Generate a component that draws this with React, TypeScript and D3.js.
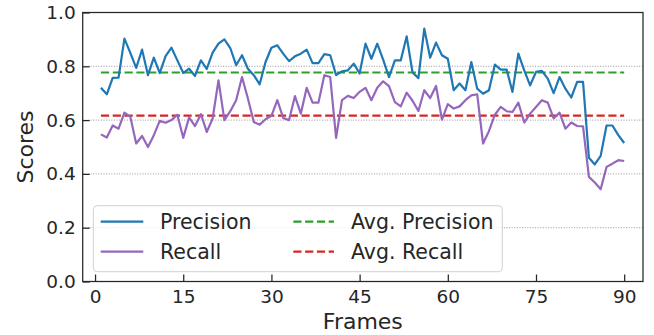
import React, { useEffect, useRef } from 'react';
import * as d3 from 'd3';

// values, frames 1..90
const precision = [
  0.72, 0.696, 0.757, 0.758, 0.903, 0.85, 0.794, 0.862, 0.767, 0.832,
  0.775, 0.838, 0.869, 0.822, 0.775, 0.791, 0.764, 0.822, 0.79, 0.851,
  0.884, 0.9, 0.868, 0.804, 0.841, 0.791, 0.767, 0.733, 0.816, 0.869,
  0.878, 0.847, 0.819, 0.837, 0.847, 0.862, 0.812, 0.812, 0.845, 0.841,
  0.767, 0.781, 0.785, 0.81, 0.773, 0.884, 0.828, 0.884, 0.825, 0.76,
  0.822, 0.822, 0.911, 0.777, 0.756, 0.94, 0.832, 0.888, 0.841, 0.828,
  0.711, 0.736, 0.711, 0.816, 0.717, 0.698, 0.711, 0.806, 0.788, 0.788,
  0.705, 0.847, 0.785, 0.729, 0.779, 0.783, 0.754, 0.7, 0.76, 0.717,
  0.684, 0.742, 0.742, 0.46, 0.435, 0.467, 0.58, 0.58, 0.544, 0.515,
];

const recall = [
  0.547, 0.535, 0.58, 0.568, 0.628, 0.612, 0.513, 0.541, 0.5, 0.544,
  0.597, 0.59, 0.6, 0.62, 0.534, 0.61, 0.578, 0.622, 0.556, 0.606,
  0.748, 0.6, 0.633, 0.674, 0.76, 0.68, 0.593, 0.583, 0.603, 0.616,
  0.674, 0.608, 0.6, 0.689, 0.624, 0.72, 0.665, 0.665, 0.767, 0.76,
  0.534, 0.674, 0.69, 0.682, 0.705, 0.72, 0.674, 0.72, 0.744, 0.726,
  0.667, 0.651, 0.702, 0.672, 0.634, 0.711, 0.682, 0.727, 0.602, 0.659,
  0.643, 0.651, 0.674, 0.692, 0.696, 0.513, 0.559, 0.62, 0.649, 0.633,
  0.63, 0.665, 0.591, 0.624, 0.649, 0.674, 0.665, 0.606, 0.628, 0.568,
  0.591, 0.578, 0.577, 0.389, 0.368, 0.343, 0.426, 0.438, 0.451, 0.448,
];

const avgPrecision = 0.777;
const avgRecall = 0.617;

const xTicks = [0, 15, 30, 45, 60, 75, 90];
const yTicks = [0.0, 0.2, 0.4, 0.6, 0.8, 1.0];
const gridTicks = [0.2, 0.4, 0.6, 0.8];

const frames = precision.map((_, i) => i + 1);

const FONT = '"DejaVu Sans", sans-serif';
const INK = '#262626';

const ScoresChart: React.FC = () => {
  const ref = useRef<SVGSVGElement>(null);

  useEffect(() => {
    document.body.style.margin = '0';

    const W = 654;
    const H = 335;
    const left = 82.7;
    const right = 643;
    const top = 12.5;
    const bottom = 281.5;

    const svg = d3.select(ref.current);
    svg.selectAll('*').remove();
    svg.attr('width', W).attr('height', H).style('display', 'block');

    const x = d3.scaleLinear().domain([-2.1, 93.2]).range([left, right]);
    const y = d3.scaleLinear().domain([0, 1]).range([bottom, top]);

    svg.append('rect').attr('width', W).attr('height', H).attr('fill', '#fff');

    // dotted horizontal grid
    svg
      .append('g')
      .selectAll('line')
      .data(gridTicks)
      .join('line')
      .attr('x1', left)
      .attr('x2', right)
      .attr('y1', (d) => y(d))
      .attr('y2', (d) => y(d))
      .attr('stroke', '#8c8c8c')
      .attr('stroke-width', 0.9)
      .attr('stroke-dasharray', '1,1.6');

    const line = d3
      .line<number>()
      .x((_, i) => x(frames[i]))
      .y((d) => y(d));

    // averages
    const x0 = d3.min(frames) as number;
    const x1 = d3.max(frames) as number;
    const avgs: [number, string][] = [
      [avgPrecision, '#2ca02c'],
      [avgRecall, '#d62728'],
    ];
    avgs.forEach(([v, c]) => {
      svg
        .append('line')
        .attr('x1', x(x0))
        .attr('x2', x(x1))
        .attr('y1', y(v))
        .attr('y2', y(v))
        .attr('stroke', c)
        .attr('stroke-width', 2.2)
        .attr('stroke-dasharray', '8.2,3.6');
    });

    svg
      .append('path')
      .datum(recall)
      .attr('d', line)
      .attr('fill', 'none')
      .attr('stroke', '#9467bd')
      .attr('stroke-width', 2.2)
      .attr('stroke-linejoin', 'round');

    svg
      .append('path')
      .datum(precision)
      .attr('d', line)
      .attr('fill', 'none')
      .attr('stroke', '#1f77b4')
      .attr('stroke-width', 2.2)
      .attr('stroke-linejoin', 'round');

    // axes with inward ticks
    const xAxis = svg
      .append('g')
      .attr('transform', `translate(0,${bottom})`)
      .call(d3.axisBottom(x).tickValues(xTicks).tickSize(-7).tickPadding(8).tickFormat(d3.format('d')));
    const yAxis = svg
      .append('g')
      .attr('transform', `translate(${left},0)`)
      .call(d3.axisLeft(y).tickValues(yTicks).tickSize(-7).tickPadding(7).tickFormat(d3.format('.1f')));

    [xAxis, yAxis].forEach((g) => {
      g.select('.domain').remove();
      g.selectAll('line').attr('stroke', INK).attr('stroke-width', 1.25);
      g.selectAll('text')
        .attr('fill', INK)
        .style('font-family', FONT)
        .style('font-size', '18.5px');
    });

    // spines
    svg
      .append('rect')
      .attr('x', left)
      .attr('y', top)
      .attr('width', right - left)
      .attr('height', bottom - top)
      .attr('fill', 'none')
      .attr('stroke', INK)
      .attr('stroke-width', 1.25);

    // legend
    const lg = svg.append('g').style('font-family', FONT).style('font-size', '20.5px');
    lg.append('rect')
      .attr('x', 93.3)
      .attr('y', 205.7)
      .attr('width', 409)
      .attr('height', 66)
      .attr('rx', 4)
      .attr('fill', '#fff')
      .attr('fill-opacity', 0.8)
      .attr('stroke', '#d0d0d0')
      .attr('stroke-width', 1);

    const items = [
      { label: 'Precision', color: '#1f77b4', dash: null, col: 0, row: 0 },
      { label: 'Recall', color: '#9467bd', dash: null, col: 0, row: 1 },
      { label: 'Avg. Precision', color: '#2ca02c', dash: '8.2,3.6', col: 1, row: 0 },
      { label: 'Avg. Recall', color: '#d62728', dash: '8.2,3.6', col: 1, row: 1 },
    ];
    const colX = [
      [100.7, 143.3, 160],
      [293.3, 334, 351],
    ];
    const rowY = [221.7, 251.7];
    items.forEach((it) => {
      const [hx0, hx1, tx] = colX[it.col];
      const ry = rowY[it.row];
      lg.append('line')
        .attr('x1', hx0)
        .attr('x2', hx1)
        .attr('y1', ry)
        .attr('y2', ry)
        .attr('stroke', it.color)
        .attr('stroke-width', 2.2)
        .attr('stroke-dasharray', it.dash);
      lg.append('text').attr('x', tx).attr('y', ry).attr('dy', '0.36em').attr('fill', INK).text(it.label);
    });

    // axis titles
    svg
      .append('text')
      .attr('x', (left + right) / 2)
      .attr('y', 329.3)
      .attr('text-anchor', 'middle')
      .attr('fill', INK)
      .style('font-family', FONT)
      .style('font-size', '22px')
      .text('Frames');

    svg
      .append('text')
      .attr('transform', `translate(33,${(top + bottom) / 2}) rotate(-90)`)
      .attr('text-anchor', 'middle')
      .attr('fill', INK)
      .style('font-family', FONT)
      .style('font-size', '22px')
      .text('Scores');
  }, []);

  return <svg ref={ref}></svg>;
};

export default function App() {
  return <ScoresChart />;
}
